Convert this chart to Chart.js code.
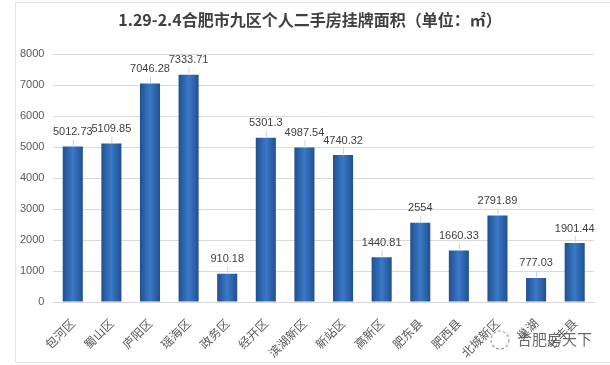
<!DOCTYPE html>
<html>
<head>
<meta charset="utf-8">
<script src="https://cdn.jsdelivr.net/npm/chart.js@4/dist/chart.umd.min.js"></script>
<style>
html,body{margin:0;padding:0;background:#fff;}
#wrap{position:absolute;left:15px;top:2px;width:600px;height:361px;border:1px solid #e4e4e4;border-right:none;box-sizing:border-box;}
#c{position:absolute;left:0;top:0;}
</style>
</head>
<body>
<div id="wrap"></div>
<canvas id="c" width="610" height="365"></canvas>
<script>
const chartTitle = '1.29-2.4合肥市九区个人二手房挂牌面积（单位：㎡）';
const categories = ['包河区','蜀山区','庐阳区','瑶海区','政务区','经开区','滨湖新区','新站区','高新区','肥东县','肥西县','北城新区','巢湖','长丰县'];
const areaValues = [5012.73,5109.85,7046.28,7333.71,910.18,5301.3,4987.54,4740.32,1440.81,2554,1660.33,2791.89,777.03,1901.44];
const valueLabels = ['5012.73','5109.85','7046.28','7333.71','910.18','5301.3','4987.54','4740.32','1440.81','2554','1660.33','2791.89','777.03','1901.44'];
const yTicks = [0,1000,2000,3000,4000,5000,6000,7000,8000];
const watermark = '合肥房天下';

const gradientPlugin = {
  id: 'barGradient',
  beforeDatasetsDraw(chart) {
    const ctx = chart.ctx;
    chart.getDatasetMeta(0).data.forEach(el => {
      const g = ctx.createLinearGradient(el.x - el.width / 2, 0, el.x + el.width / 2, 0);
      g.addColorStop(0, '#21508f');
      g.addColorStop(0.5, '#3a79c7');
      g.addColorStop(1, '#21508f');
      el.options = Object.assign({}, el.options, { backgroundColor: g });
    });
  }
};

const labelPlugin = {
  id: 'valueLabels',
  afterDatasetsDraw(chart) {
    const ctx = chart.ctx;
    const meta = chart.getDatasetMeta(0);
    ctx.save();
    ctx.font = '11px "Liberation Sans", Arial, sans-serif';
    ctx.fillStyle = '#404040';
    ctx.textAlign = 'center';
    ctx.textBaseline = 'bottom';
    meta.data.forEach((bar, i) => {
      ctx.fillText(valueLabels[i], bar.x, bar.y - 9);
      ctx.strokeStyle = '#d0d0d0';
      ctx.lineWidth = 1;
      ctx.beginPath();
      ctx.moveTo(bar.x + 0.5, bar.y - 7);
      ctx.lineTo(bar.x + 0.5, bar.y - 1);
      ctx.stroke();
    });
    ctx.restore();
  }
};

const titlePlugin = {
  id: 'titleText',
  afterDraw(chart) {
    const ctx = chart.ctx;
    ctx.save();
    ctx.font = 'bold 16px "Noto Sans CJK SC", sans-serif';
    ctx.fillStyle = '#404040';
    ctx.textAlign = 'center';
    ctx.textBaseline = 'middle';
    ctx.fillText(chartTitle, 310, 20);
    ctx.font = '15px "Noto Sans CJK SC", sans-serif';
    ctx.fillStyle = 'rgba(80,80,80,0.85)';
    ctx.textAlign = 'left';
    ctx.fillText(watermark, 517, 339);
    ctx.strokeStyle = 'rgba(120,120,120,0.7)';
    ctx.lineWidth = 1.2;
    ctx.setLineDash([3, 2]);
    ctx.beginPath();
    ctx.arc(500, 340, 9, 0, Math.PI * 2);
    ctx.stroke();
    ctx.restore();
  }
};

new Chart(document.getElementById('c'), {
  type: 'bar',
  data: {
    labels: categories,
    datasets: [{
      data: areaValues,
      backgroundColor: '#2f68b8',
      borderWidth: 0,
      barPercentage: 0.52,
      categoryPercentage: 1.0
    }]
  },
  options: {
    responsive: false,
    animation: false,
    layout: { padding: { top: 54, left: 11, right: 16, bottom: 0 } },
    plugins: { legend: { display: false }, title: { display: false }, tooltip: { enabled: false } },
    scales: {
      x: {
        afterFit(scale) { scale.height = 63; },
        grid: { display: false, drawTicks: false },
        border: { display: true, color: '#d9d9d9' },
        ticks: {
          color: '#595959',
          font: { size: 12, family: '"Noto Sans CJK SC", sans-serif' },
          maxRotation: 45, minRotation: 45,
          padding: 14
        }
      },
      y: {
        min: 0, max: 8000,
        afterBuildTicks(axis) { axis.ticks = yTicks.map(v => ({ value: v })); },
        grid: { color: '#d9d9d9', drawTicks: false },
        border: { display: false },
        ticks: {
          color: '#595959',
          font: { size: 11, family: '"Liberation Sans", Arial, sans-serif' },
          padding: 9,
          callback: v => String(v)
        }
      }
    }
  },
  plugins: [gradientPlugin, labelPlugin, titlePlugin]
});
</script>
</body>
</html>
